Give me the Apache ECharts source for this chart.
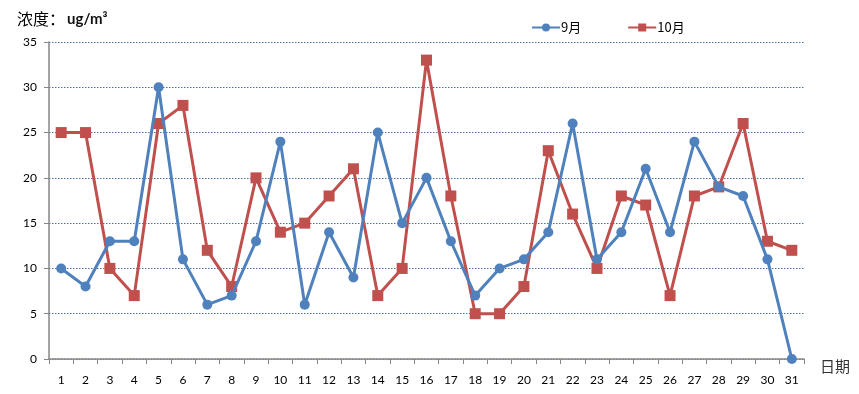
<!DOCTYPE html>
<html>
<head>
<meta charset="utf-8">
<script src="https://cdn.jsdelivr.net/npm/echarts@6/dist/echarts.min.js"></script>
<style>html,body{margin:0;padding:0;background:#fff}#c{width:859px;height:394px}</style>
</head>
<body>
<div id="c"></div>
<script>
var days = ['1','2','3','4','5','6','7','8','9','10','11','12','13','14','15','16','17','18','19','20','21','22','23','24','25','26','27','28','29','30','31'];
var sep = [10,8,13,13,30,11,6,7,13,24,6,14,9,25,15,20,13,7,10,11,14,26,11,14,21,14,24,19,18,11,0];
var oct = [25,25,10,7,26,28,12,8,20,14,15,18,21,7,10,33,18,5,5,8,23,16,10,18,17,7,18,19,26,13,12];
var seriesNames = ['9月','10月'];

var chart = echarts.init(document.getElementById('c'), null, {renderer:'canvas'});
var font = 'Lato, "Open Sans", sans-serif';
chart.setOption({
  animation:false,
  backgroundColor:'#fff',
  title:{
    text:'{a|浓度：}{b|ug/m³}',
    left:12, top:6,
    textStyle:{fontWeight:'normal', rich:{
      a:{fontSize:16, fontWeight:'normal', fontFamily:'"Noto Sans CJK SC", sans-serif', color:'#000'},
      b:{fontSize:15, fontWeight:'bold', fontFamily:font, color:'#111', padding:[0,0,0,2]}
    }}
  },
  legend:{
    left:526, top:16,
    itemWidth:28, itemHeight:10, itemGap:46,
    textStyle:{fontSize:13, fontFamily:'"Noto Sans CJK SC", sans-serif', color:'#000', padding:[0,0,0,-4]},
    data:seriesNames
  },
  grid:{left:49, right:55, top:42, bottom:35, containLabel:false},
  xAxis:{
    type:'category', data:days, boundaryGap:true,
    name:'日期', nameLocation:'end', nameGap:16,
    nameTextStyle:{fontSize:15, color:'#333', fontFamily:'"Noto Sans CJK SC", sans-serif', verticalAlign:'top', padding:[0,0,0,0]},
    axisLine:{lineStyle:{color:'#868686', width:1.5}},
    axisTick:{show:true, length:5, lineStyle:{color:'#868686'}},
    axisLabel:{margin:15, fontSize:12, color:'#000', fontFamily:font}
  },
  yAxis:{
    type:'value', min:0, max:35, interval:5,
    axisLine:{show:true, lineStyle:{color:'#868686', width:1.5}},
    axisTick:{show:true, length:5, lineStyle:{color:'#868686'}},
    axisLabel:{margin:12, fontSize:12, color:'#000', fontFamily:font},
    splitLine:{show:true, lineStyle:{color:'#4a6fa5', type:[1.5,1.5], width:1}}
  },
  series:[
    {name:seriesNames[0], type:'line', data:sep, symbol:'circle', symbolSize:10,
     lineStyle:{color:'#4F81BD', width:3}, itemStyle:{color:'#4F81BD'}, z:3},
    {name:seriesNames[1], type:'line', data:oct, symbol:'rect', symbolSize:11,
     lineStyle:{color:'#C0504D', width:3}, itemStyle:{color:'#C0504D'}, z:2}
  ]
});
</script>
</body>
</html>
